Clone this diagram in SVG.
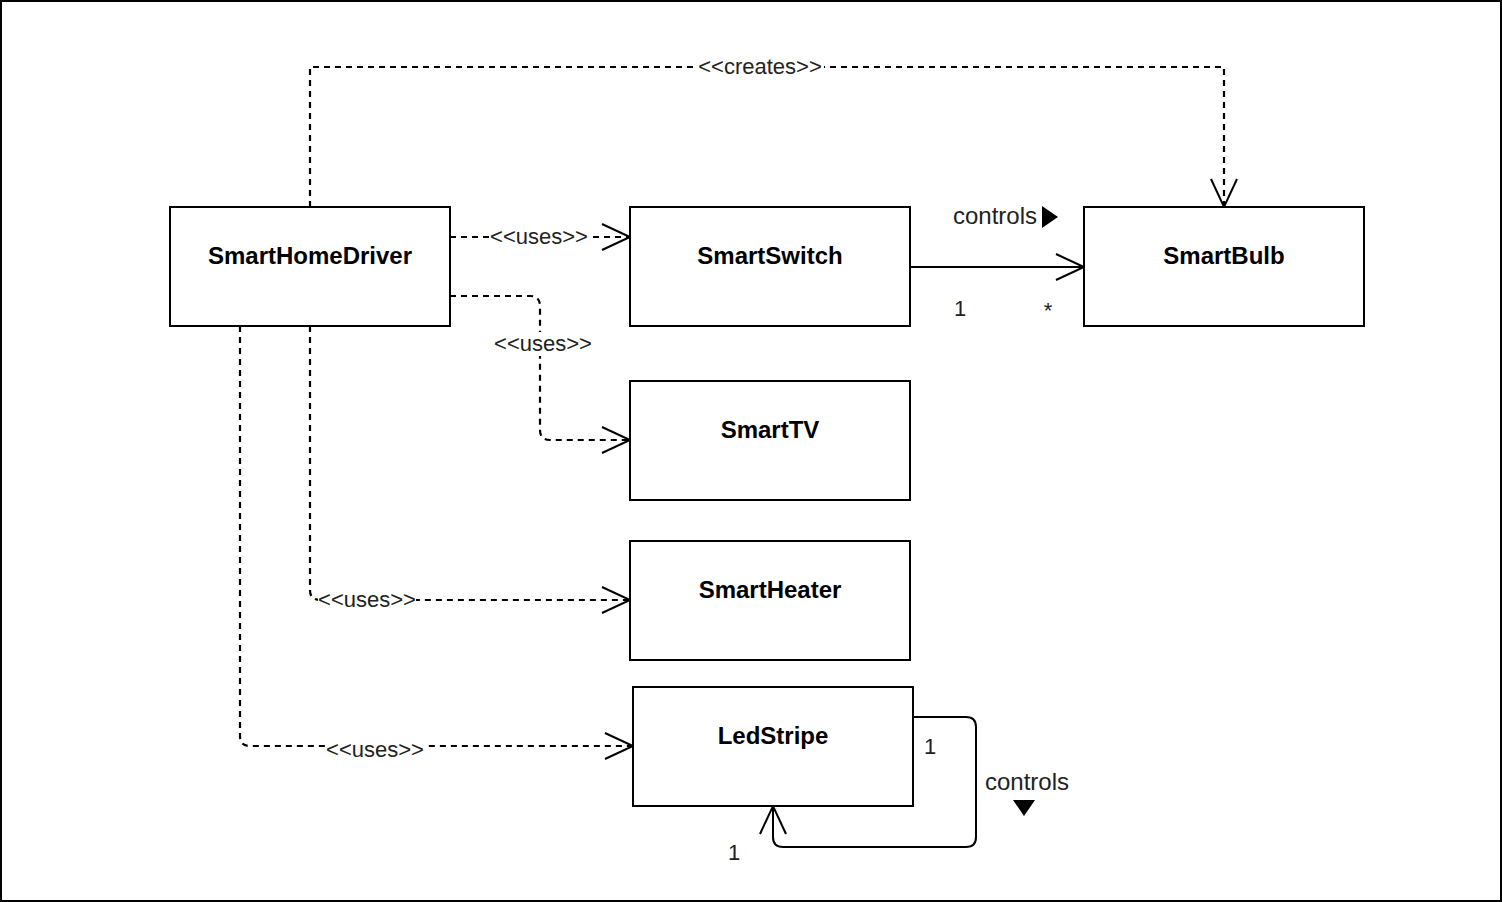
<svg xmlns="http://www.w3.org/2000/svg" width="1502" height="902" viewBox="0 0 1502 902">
<style>
.box{fill:#fff;stroke:#000;stroke-width:2}
.name{font-family:"Liberation Sans",Arial,sans-serif;font-size:24px;font-weight:bold;text-anchor:middle;fill:#000}
.dash{fill:none;stroke:#000;stroke-width:2.2;stroke-dasharray:6 5}
.solid{fill:none;stroke:#000;stroke-width:2}
.head{fill:none;stroke:#000;stroke-width:2}
.lbl{font-family:"Liberation Sans",Arial,sans-serif;font-size:22px;fill:#222;text-anchor:middle}
.lbl24{font-family:"Liberation Sans",Arial,sans-serif;font-size:24px;fill:#222;text-anchor:middle}
.bg{fill:#fff}
</style>
<rect x="1" y="1" width="1500" height="900" fill="#fff" stroke="#000" stroke-width="2"/>
<g id="connectors">
  <!-- creates -->
  <path class="dash" d="M310,207 V67 H1224 V207"/>
  <path class="head" d="M1211,179 L1224,207 L1237,179"/>
  <rect class="bg" x="696" y="55" width="128" height="24"/>
  <text class="lbl" x="760" y="74">&lt;&lt;creates&gt;&gt;</text>
  <!-- uses SmartSwitch -->
  <path class="dash" d="M450,237 H630"/>
  <path class="head" d="M602,224 L630,237 L602,250"/>
  <rect class="bg" x="489" y="225" width="100" height="24"/>
  <text class="lbl" x="539" y="244">&lt;&lt;uses&gt;&gt;</text>
  <!-- uses SmartTV -->
  <path class="dash" d="M450,296 H530 Q540,296 540,306 V430 Q540,440 550,440 H630"/>
  <path class="head" d="M602,427 L630,440 L602,453"/>
  <rect class="bg" x="493" y="332" width="100" height="24"/>
  <text class="lbl" x="543" y="351">&lt;&lt;uses&gt;&gt;</text>
  <!-- uses SmartHeater -->
  <path class="dash" d="M310,326 V590 Q310,600 320,600 H630"/>
  <path class="head" d="M602,587 L630,600 L602,613"/>
  <rect class="bg" x="318" y="588" width="98" height="24"/>
  <text class="lbl" x="367" y="607">&lt;&lt;uses&gt;&gt;</text>
  <!-- uses LedStripe -->
  <path class="dash" d="M240,326 V736 Q240,746 250,746 H633"/>
  <path class="head" d="M605,733 L633,746 L605,759"/>
  <rect class="bg" x="326" y="738" width="98" height="24"/>
  <text class="lbl" x="375" y="757">&lt;&lt;uses&gt;&gt;</text>
  <!-- SmartSwitch controls SmartBulb -->
  <path class="solid" d="M910,267 H1084"/>
  <path class="head" d="M1056,254 L1084,267 L1056,280"/>
  <text class="lbl24" x="995" y="224">controls</text>
  <path d="M1042,206 L1058,217 L1042,228 Z" fill="#000"/>
  <text class="lbl" x="960" y="316">1</text>
  <text class="lbl" x="1048" y="318">*</text>
  <!-- LedStripe self loop -->
  <path class="solid" d="M913,717 H966 Q976,717 976,727 V837 Q976,847 966,847 H783 Q773,847 773,837 V806"/>
  <path class="head" d="M760,834 L773,806 L786,834"/>
  <text class="lbl" x="930" y="754">1</text>
  <text class="lbl" x="734" y="860">1</text>
  <text class="lbl24" x="1027" y="790">controls</text>
  <path d="M1013,800 L1035,800 L1024,816 Z" fill="#000"/>
</g>
<g id="SmartHomeDriver"><rect class="box" x="170" y="207" width="280" height="119"/><text class="name" x="310" y="264">SmartHomeDriver</text></g>
<g id="SmartSwitch"><rect class="box" x="630" y="207" width="280" height="119"/><text class="name" x="770" y="264">SmartSwitch</text></g>
<g id="SmartBulb"><rect class="box" x="1084" y="207" width="280" height="119"/><text class="name" x="1224" y="264">SmartBulb</text></g>
<g id="SmartTV"><rect class="box" x="630" y="381" width="280" height="119"/><text class="name" x="770" y="438">SmartTV</text></g>
<g id="SmartHeater"><rect class="box" x="630" y="541" width="280" height="119"/><text class="name" x="770" y="598">SmartHeater</text></g>
<g id="LedStripe"><rect class="box" x="633" y="687" width="280" height="119"/><text class="name" x="773" y="744">LedStripe</text></g>
</svg>
